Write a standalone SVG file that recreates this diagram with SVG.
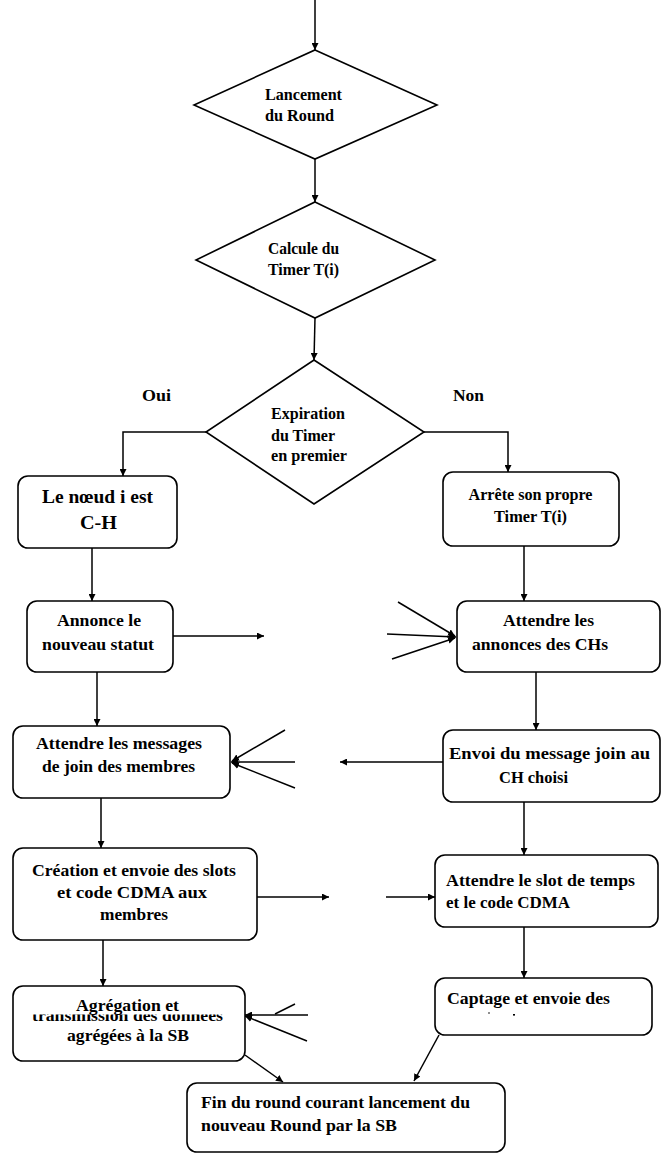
<svg xmlns="http://www.w3.org/2000/svg" width="662" height="1155" viewBox="0 0 662 1155">
  <style>
    .shape { fill: #ffffff; stroke: #000000; stroke-width: 1.6; }
    .wire { fill: none; stroke: #000000; stroke-width: 1.5; }
    .lbl { font-family: "Liberation Serif", "Times New Roman", serif; font-weight: bold; fill: #000000; }
    .dia { font-size: 16px; }
    .box { font-size: 17.5px; }
    .mid { text-anchor: middle; }
  </style>
  <defs>
    <marker id="arrow" viewBox="0 0 10 10" refX="10" refY="5" markerWidth="7" markerHeight="7" markerUnits="userSpaceOnUse" orient="auto">
      <path d="M0,0 L10,5 L0,10 z" fill="#000000"/>
    </marker>
    <clipPath id="lowerHalf">
      <rect x="14" y="1014.5" width="230" height="12"/>
    </clipPath>
  </defs>
  <rect width="662" height="1155" fill="#ffffff"/>

  <!-- connectors -->
  <g id="connectors" class="wire">
    <line x1="315" y1="0" x2="315" y2="50" marker-end="url(#arrow)"/>
    <line x1="315" y1="159" x2="315" y2="202" marker-end="url(#arrow)"/>
    <line x1="315" y1="318" x2="314" y2="360" marker-end="url(#arrow)"/>
    <polyline points="206,432 123,432 123,476" marker-end="url(#arrow)"/>
    <polyline points="424,432 508,432 508,472" marker-end="url(#arrow)"/>
    <line x1="92" y1="548" x2="92" y2="601" marker-end="url(#arrow)"/>
    <line x1="524" y1="546" x2="524" y2="601" marker-end="url(#arrow)"/>
    <line x1="173" y1="636" x2="264" y2="636" marker-end="url(#arrow)"/>
    <line x1="398" y1="602" x2="455" y2="636" marker-end="url(#arrow)"/>
    <line x1="387" y1="634" x2="456" y2="637" marker-end="url(#arrow)"/>
    <line x1="392" y1="659" x2="455" y2="638" marker-end="url(#arrow)"/>
    <line x1="97" y1="672" x2="97" y2="726" marker-end="url(#arrow)"/>
    <line x1="536" y1="672" x2="536" y2="730" marker-end="url(#arrow)"/>
    <line x1="285" y1="730" x2="232" y2="761" marker-end="url(#arrow)"/>
    <line x1="295" y1="762" x2="231" y2="762" marker-end="url(#arrow)"/>
    <line x1="295" y1="788" x2="232" y2="763" marker-end="url(#arrow)"/>
    <line x1="443" y1="762" x2="340" y2="762" marker-end="url(#arrow)"/>
    <line x1="101" y1="798" x2="101" y2="848" marker-end="url(#arrow)"/>
    <line x1="524" y1="802" x2="524" y2="855" marker-end="url(#arrow)"/>
    <line x1="257" y1="897" x2="329" y2="897" marker-end="url(#arrow)"/>
    <line x1="386" y1="897" x2="435" y2="897" marker-end="url(#arrow)"/>
    <line x1="103" y1="940" x2="103" y2="986" marker-end="url(#arrow)"/>
    <line x1="524" y1="927" x2="524" y2="978" marker-end="url(#arrow)"/>
    <line x1="308" y1="1015" x2="245" y2="1015" marker-end="url(#arrow)"/>
    <line x1="307" y1="1041" x2="245" y2="1016" marker-end="url(#arrow)"/>
    <line x1="295" y1="1004" x2="275" y2="1014"/>
    <line x1="245" y1="1055" x2="283" y2="1082" marker-end="url(#arrow)"/>
    <line x1="439" y1="1035" x2="414" y2="1081" marker-end="url(#arrow)"/>
  </g>

  <!-- branch labels -->
  <g id="branch-labels" class="lbl box">
    <text x="142" y="401" textLength="29" lengthAdjust="spacingAndGlyphs">Oui</text>
    <text x="453" y="401" textLength="31" lengthAdjust="spacingAndGlyphs">Non</text>
  </g>

  <g id="lancement">
    <polygon class="shape" points="315,50 437,105 315,159 194,105"/>
    <text class="lbl dia" x="265" y="100" textLength="77" lengthAdjust="spacingAndGlyphs">Lancement</text>
    <text class="lbl dia" x="265" y="121" textLength="69" lengthAdjust="spacingAndGlyphs">du Round</text>
  </g>

  <g id="calcul-timer">
    <polygon class="shape" points="315,202 435,260 315,318 196,260"/>
    <text class="lbl dia" x="268" y="254" textLength="71" lengthAdjust="spacingAndGlyphs">Calcule du</text>
    <text class="lbl dia" x="268" y="275" textLength="71" lengthAdjust="spacingAndGlyphs">Timer T(i)</text>
  </g>

  <g id="expiration">
    <polygon class="shape" points="314,360 424,432 314,504 206,432"/>
    <text class="lbl dia" x="271" y="419" textLength="74" lengthAdjust="spacingAndGlyphs">Expiration</text>
    <text class="lbl dia" x="271" y="441" textLength="64" lengthAdjust="spacingAndGlyphs">du Timer</text>
    <text class="lbl dia" x="271" y="461" textLength="76" lengthAdjust="spacingAndGlyphs">en premier</text>
  </g>

  <g id="noeud-ch">
    <rect class="shape" x="18" y="476" width="159" height="72" rx="10"/>
    <text class="lbl mid" style="font-size:19.5px" x="97.5" y="503" textLength="111" lengthAdjust="spacingAndGlyphs">Le nœud i est</text>
    <text class="lbl mid" style="font-size:19.5px" x="98.5" y="529" textLength="37" lengthAdjust="spacingAndGlyphs">C-H</text>
  </g>

  <g id="arrete-timer">
    <rect class="shape" x="443" y="472" width="176" height="74" rx="10"/>
    <text class="lbl mid" style="font-size:16.5px" x="530.5" y="500" textLength="124" lengthAdjust="spacingAndGlyphs">Arrête son propre</text>
    <text class="lbl mid" style="font-size:16.5px" x="530.5" y="522" textLength="73" lengthAdjust="spacingAndGlyphs">Timer T(i)</text>
  </g>

  <g id="annonce-statut">
    <rect class="shape" x="27" y="601" width="146" height="71" rx="10"/>
    <text class="lbl box mid" x="99" y="626" textLength="84" lengthAdjust="spacingAndGlyphs">Annonce le</text>
    <text class="lbl box mid" x="98" y="650" textLength="112" lengthAdjust="spacingAndGlyphs">nouveau statut</text>
  </g>

  <g id="attendre-annonces">
    <rect class="shape" x="457" y="601" width="203" height="71" rx="10"/>
    <text class="lbl box mid" x="548.5" y="626" textLength="91" lengthAdjust="spacingAndGlyphs">Attendre les</text>
    <text class="lbl box mid" x="540" y="650" textLength="136" lengthAdjust="spacingAndGlyphs">annonces des CHs</text>
  </g>

  <g id="attendre-join">
    <rect class="shape" x="13" y="726" width="217" height="72" rx="10"/>
    <text class="lbl box mid" x="119" y="749" textLength="166" lengthAdjust="spacingAndGlyphs">Attendre les messages</text>
    <text class="lbl box mid" x="118.5" y="772" textLength="153" lengthAdjust="spacingAndGlyphs">de join des membres</text>
  </g>

  <g id="envoi-join">
    <rect class="shape" x="443" y="730" width="217" height="72" rx="10"/>
    <text class="lbl box mid" x="549.5" y="759" textLength="201" lengthAdjust="spacingAndGlyphs">Envoi du message join au</text>
    <text class="lbl box mid" x="533.5" y="783" textLength="69" lengthAdjust="spacingAndGlyphs">CH choisi</text>
  </g>

  <g id="creation-slots">
    <rect class="shape" x="13" y="848" width="244" height="92" rx="10"/>
    <text class="lbl box mid" x="134" y="876" textLength="204" lengthAdjust="spacingAndGlyphs">Création et envoie des slots</text>
    <text class="lbl box mid" x="132" y="898" textLength="150" lengthAdjust="spacingAndGlyphs">et code CDMA aux</text>
    <text class="lbl box mid" x="134" y="920" textLength="68" lengthAdjust="spacingAndGlyphs">membres</text>
  </g>

  <g id="attendre-slot">
    <rect class="shape" x="435" y="855" width="223" height="72" rx="10"/>
    <text class="lbl box" x="446" y="886" textLength="189" lengthAdjust="spacingAndGlyphs">Attendre le slot de temps</text>
    <text class="lbl box" x="446" y="908" textLength="124" lengthAdjust="spacingAndGlyphs">et le code CDMA</text>
  </g>

  <g id="agregation">
    <rect class="shape" x="13" y="986" width="232" height="75" rx="10"/>
    <text class="lbl box mid" x="127.5" y="1021" textLength="191" lengthAdjust="spacingAndGlyphs" clip-path="url(#lowerHalf)">transmission des données</text>
    <text class="lbl box mid" x="127.5" y="1011" textLength="103" lengthAdjust="spacingAndGlyphs">Agrégation et</text>
    <text class="lbl box mid" x="128" y="1041" textLength="122" lengthAdjust="spacingAndGlyphs">agrégées à la SB</text>
  </g>

  <g id="captage">
    <rect class="shape" x="435" y="978" width="217" height="57" rx="10"/>
    <text class="lbl box" x="447" y="1004" textLength="163" lengthAdjust="spacingAndGlyphs">Captage et envoie des</text>
    <circle cx="489" cy="1013" r="0.8" fill="#000000"/>
    <rect x="513" y="1014" width="2" height="1.6" fill="#000000"/>
  </g>

  <g id="fin-round">
    <rect class="shape" x="187" y="1083" width="318" height="69" rx="10"/>
    <text class="lbl box" x="201" y="1108" textLength="269" lengthAdjust="spacingAndGlyphs">Fin du round courant lancement du</text>
    <text class="lbl box" x="201" y="1131" textLength="196" lengthAdjust="spacingAndGlyphs">nouveau Round par la SB</text>
  </g>
</svg>
